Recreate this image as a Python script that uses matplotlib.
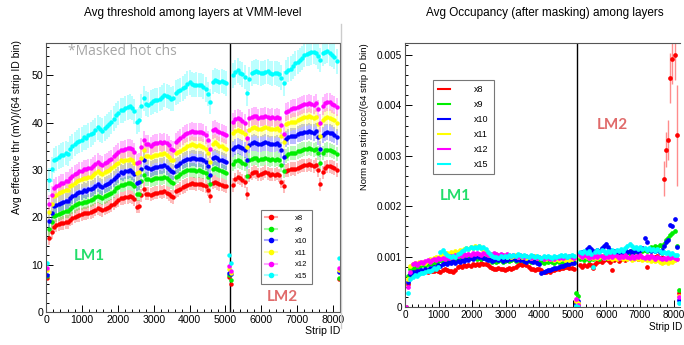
import numpy as np
import matplotlib
matplotlib.use('Agg')
import matplotlib.pyplot as plt
from matplotlib.lines import Line2D
from matplotlib.colors import to_rgba
from matplotlib.ticker import MultipleLocator, FuncFormatter

plt.rcParams['font.family'] = ['Liberation Sans', 'DejaVu Sans']

# 8192 strips grouped in bins of 64 strip IDs
n_bins = 128
bin_width = 64
lm_boundary = 5120

layers = ['x8', 'x9', 'x10', 'x11', 'x12', 'x15']
colors = ['#ff0000', '#00ee00', '#0000ff', '#ffff00', '#ff00ff', '#00ffff']

# --- avg threshold (mV) per 64-strip bin, one list per layer ---
thr_x8 = [7.1, 15.6, 16.9, 18.0, 18.3, 18.5, 18.7, 18.8, 19.0, 19.0,
          19.5, 19.8, 20.1, 20.3, 20.5, 20.6, 20.8, 20.8, 21.0, 21.1,
          21.3, 21.6, 21.9, 21.7, 21.5, 21.8, 22.0, 22.2, 22.5, 22.9,
          23.3, 23.6, 24.0, 24.0, 24.2, 24.3, 24.4, 24.2, 23.8, 22.2,
          22.3, 24.6, 26.0, 25.0, 25.0, 24.8, 25.0, 25.2, 25.2, 25.4,
          25.3, 25.5, 25.2, 24.9, 24.4, 24.3, 25.5, 25.7, 26.0, 26.4,
          26.6, 26.9, 27.1, 27.2, 27.1, 27.0, 27.1, 27.0, 26.8, 26.5,
          25.8, 24.4, 27.3, 27.5, 27.2, 27.0, 26.9, 26.7, 26.5, 7.4,
          6.0, 26.8, 28.0, 28.5, 28.2, 27.8, 27.5, 25.0, 28.8, 29.3,
          29.6, 29.5, 29.0, 29.1, 29.3, 29.6, 29.3, 29.0, 29.1, 29.0,
          29.2, 28.9, 27.5, 26.5, 29.8, 30.0, 30.2, 30.3, 30.2, 30.5,
          30.7, 30.9, 31.0, 31.0, 31.2, 31.0, 30.8, 31.1, 30.0, 27.0,
          29.5, 30.5, 30.8, 30.8, 30.6, 30.4, 30.0, 6.9]
thr_x9 = [7.6, 17.5, 18.9, 20.2, 20.5, 20.7, 20.9, 21.1, 21.3, 21.4,
          21.8, 22.2, 22.5, 22.8, 23.0, 23.1, 23.3, 23.2, 23.5, 23.6,
          23.9, 24.2, 24.5, 24.3, 24.0, 24.4, 24.6, 24.9, 25.2, 25.6,
          26.1, 26.4, 26.9, 26.8, 27.1, 27.2, 27.3, 27.1, 26.6, 24.9,
          25.0, 27.6, 29.0, 28.0, 28.0, 27.8, 28.0, 28.2, 28.3, 28.4,
          28.3, 28.6, 28.2, 27.9, 27.4, 27.2, 28.5, 28.7, 29.1, 29.5,
          29.7, 30.0, 30.0, 30.0, 29.9, 29.8, 29.9, 29.8, 29.6, 29.3,
          28.6, 27.0, 30.2, 30.4, 30.1, 29.9, 29.8, 29.6, 29.4, 7.8,
          6.8, 31.3, 31.8, 32.0, 31.8, 31.5, 31.2, 28.8, 32.0, 32.4,
          32.6, 32.5, 32.2, 32.3, 32.4, 32.6, 32.4, 32.2, 32.3, 32.2,
          32.4, 32.1, 31.0, 29.8, 33.0, 33.3, 33.5, 33.6, 33.6, 33.9,
          34.1, 34.3, 34.4, 34.4, 34.6, 34.4, 34.2, 34.5, 33.5, 31.5,
          33.6, 34.2, 34.3, 34.2, 34.0, 33.8, 33.4, 7.1]
thr_x10 = [7.9, 19.3, 20.9, 22.3, 22.6, 22.9, 23.1, 23.2, 23.5, 23.5,
           24.1, 24.5, 24.8, 25.1, 25.3, 25.4, 25.7, 25.6, 25.9, 26.0,
           26.2, 26.6, 27.0, 26.7, 26.4, 26.8, 27.0, 27.3, 27.7, 28.1,
           28.6, 29.0, 29.5, 29.4, 29.7, 29.8, 29.9, 29.6, 29.1, 27.2,
           27.4, 30.3, 32.0, 30.6, 30.5, 30.2, 30.4, 30.7, 30.7, 30.9,
           30.8, 31.0, 30.6, 30.3, 29.7, 29.5, 30.9, 31.1, 31.5, 31.9,
           32.1, 32.4, 32.4, 32.6, 32.5, 32.3, 32.4, 32.3, 32.0, 31.7,
           30.8, 29.0, 32.6, 32.8, 32.5, 32.2, 32.1, 31.8, 31.6, 8.3,
           8.1, 34.5, 34.9, 35.1, 34.9, 34.6, 34.3, 32.0, 35.3, 35.6,
           35.8, 35.7, 35.4, 35.5, 35.6, 35.8, 35.6, 35.4, 35.5, 35.4,
           35.6, 35.3, 34.2, 32.8, 36.6, 36.9, 37.1, 37.2, 37.2, 37.5,
           37.7, 37.9, 38.1, 38.1, 38.3, 38.1, 37.9, 38.2, 37.0, 34.5,
           37.4, 37.9, 38.0, 37.9, 37.7, 37.4, 36.9, 8.5]
thr_x11 = [8.8, 21.1, 22.9, 24.4, 24.8, 25.1, 25.4, 25.5, 25.8, 25.8,
           26.5, 26.9, 27.3, 27.6, 27.8, 28.0, 28.2, 28.2, 28.5, 28.6,
           28.9, 29.3, 29.7, 29.4, 29.1, 29.5, 29.8, 30.0, 30.4, 30.8,
           31.2, 31.5, 32.0, 31.9, 32.1, 32.2, 32.3, 32.0, 31.5, 29.4,
           29.5, 32.5, 34.3, 33.0, 33.0, 32.7, 33.0, 33.2, 33.2, 33.4,
           33.3, 33.6, 33.2, 32.8, 32.1, 32.0, 33.5, 33.7, 34.0, 34.5,
           34.7, 35.0, 35.2, 35.4, 35.2, 35.1, 35.2, 35.1, 34.8, 34.5,
           33.5, 31.7, 35.5, 35.8, 35.4, 35.1, 35.0, 34.7, 34.5, 9.0,
           8.3, 37.8, 38.3, 38.5, 38.3, 38.0, 37.6, 34.8, 38.5, 38.8,
           39.0, 38.9, 38.6, 38.7, 38.8, 39.0, 38.8, 38.6, 38.7, 38.6,
           38.8, 38.5, 37.2, 35.8, 39.6, 39.9, 40.1, 40.2, 40.2, 40.5,
           40.7, 40.9, 41.1, 41.1, 41.3, 41.1, 40.9, 41.2, 39.8, 37.2,
           40.6, 41.0, 41.2, 41.0, 40.8, 40.5, 40.0, 8.8]
thr_x12 = [9.3, 22.8, 24.6, 26.2, 26.6, 26.9, 27.2, 27.3, 27.6, 27.6,
           28.3, 28.7, 29.1, 29.4, 29.7, 29.8, 30.1, 30.1, 30.4, 30.5,
           30.8, 31.2, 31.6, 31.3, 31.0, 31.4, 31.7, 32.0, 32.4, 32.9,
           33.4, 33.8, 34.3, 34.2, 34.5, 34.6, 34.7, 34.4, 33.8, 31.5,
           31.6, 34.9, 36.4, 35.4, 35.4, 35.1, 35.4, 35.6, 35.6, 35.9,
           35.7, 36.0, 35.6, 35.2, 34.4, 34.3, 36.0, 36.3, 36.7, 37.2,
           37.5, 37.9, 38.1, 38.3, 38.1, 38.0, 38.1, 38.0, 37.7, 37.3,
           36.3, 34.4, 38.4, 38.7, 38.3, 38.0, 37.9, 37.6, 37.3, 9.7,
           8.6, 40.2, 40.8, 41.0, 40.8, 40.4, 40.0, 36.8, 40.9, 41.2,
           41.4, 41.3, 41.0, 41.1, 41.2, 41.4, 41.2, 41.0, 41.1, 41.0,
           41.2, 40.9, 39.4, 37.5, 42.2, 42.5, 42.8, 43.0, 43.0, 43.3,
           43.6, 43.8, 44.0, 44.0, 44.2, 44.0, 43.8, 44.1, 42.8, 40.0,
           43.6, 44.2, 44.4, 44.3, 44.0, 43.7, 43.2, 9.3]
thr_x15 = [10.4, 27.9, 30.1, 32.0, 32.4, 32.7, 33.1, 33.2, 33.6, 33.4,
           34.5, 35.0, 35.5, 35.9, 36.2, 36.4, 36.9, 36.8, 37.3, 37.5,
           37.9, 38.4, 39.0, 38.6, 38.3, 38.8, 39.2, 39.6, 40.1, 40.8,
           41.5, 42.0, 42.6, 42.6, 43.0, 43.2, 43.4, 43.1, 42.4, 40.2,
           40.6, 43.5, 45.1, 44.0, 43.8, 44.2, 44.5, 44.8, 44.7, 45.0,
           45.3, 45.8, 45.6, 45.4, 45.0, 45.1, 46.3, 46.6, 46.9, 47.2,
           47.6, 48.2, 48.5, 48.1, 47.9, 48.0, 47.9, 47.9, 47.6, 47.0,
           46.0, 44.4, 48.6, 49.0, 48.8, 48.6, 48.8, 48.6, 48.3, 12.0,
           10.4, 50.0, 50.6, 51.0, 50.5, 50.2, 49.6, 46.2, 49.2, 50.4,
           50.7, 50.8, 50.6, 50.4, 50.5, 50.7, 50.8, 50.5, 50.3, 50.5,
           50.4, 50.2, 49.5, 48.3, 50.7, 51.2, 51.4, 51.9, 52.5, 52.8,
           53.2, 53.6, 54.3, 54.5, 54.6, 54.8, 55.0, 54.7, 54.0, 53.2,
           54.6, 55.0, 55.2, 54.6, 54.3, 53.9, 52.9, 11.3]
thr_err = [1.4, 1.5, 1.7, 1.8, 1.9, 2.6]
edge_bins = [0, 79, 80, 127]
edge_err = 0.3

# --- normalised occupancy per 64-strip bin, in units of 1e-3 ---
occ_x8 = [0.0, 0.45, 0.60, 0.68, 0.72, 0.70, 0.74, 0.71, 0.69, 0.72,
          0.70, 0.73, 0.71, 0.72, 0.74, 0.72, 0.70, 0.73, 0.76, 0.74,
          0.71, 0.72, 0.70, 0.73, 0.80, 0.82, 0.79, 0.83, 0.81, 0.84,
          0.82, 0.85, 0.83, 0.86, 0.84, 0.87, 0.85, 0.86, 0.83, 0.80,
          0.77, 0.76, 0.75, 0.77, 0.76, 0.75, 0.74, 0.76, 0.77, 0.75,
          0.78, 0.80, 0.83, 0.85, 0.84, 0.86, 0.83, 0.80, 0.76, 0.75,
          0.74, 0.76, 0.75, 0.73, 0.70, 0.69, 0.71, 0.70, 0.74, 0.73,
          0.76, 0.75, 0.78, 0.77, 0.79, 0.80, 0.77, 0.78, 0.76, 0.10,
          0.05, 0.83, 0.80, 0.84, 0.82, 0.85, 0.83, 0.78, 0.86, 0.90,
          0.92, 0.89, 0.94, 0.96, 0.93, 0.90, 0.74, 0.93, 0.95, 0.92,
          0.96, 0.98, 0.94, 0.97, 0.99, 0.95, 0.97, 1.00, 0.96, 0.98,
          0.95, 0.97, 0.80, 0.99, 1.01, 0.97, 0.99, 1.02, 0.98, 1.00,
          2.55, 3.12, 3.31, 4.54, 4.93, 5.00, 3.41, 0.27]
occ_x9 = [0.0, 0.62, 0.75, 0.78, 0.80, 0.82, 0.79, 0.83, 0.85, 0.82,
          0.86, 0.88, 0.86, 0.90, 0.88, 0.91, 0.93, 0.90, 0.94, 0.92,
          0.95, 0.93, 0.96, 0.94, 0.98, 0.96, 1.00, 0.97, 1.01, 0.99,
          1.00, 0.97, 0.99, 0.96, 0.98, 0.95, 0.97, 0.99, 0.96, 0.93,
          0.90, 0.92, 0.89, 0.91, 0.93, 0.90, 0.92, 0.94, 0.91, 0.93,
          0.95, 0.92, 0.94, 0.96, 0.93, 0.91, 0.94, 0.92, 0.90, 0.93,
          0.91, 0.89, 0.92, 0.90, 0.88, 0.91, 0.89, 0.92, 0.90, 0.88,
          0.91, 0.89, 0.92, 0.90, 0.88, 0.91, 0.89, 0.92, 0.90, 0.27,
          0.22, 0.95, 0.98, 0.93, 0.97, 0.94, 0.99, 0.96, 1.00, 0.97,
          0.95, 0.99, 1.02, 0.98, 1.04, 1.07, 1.03, 1.08, 1.05, 1.10,
          1.07, 1.09, 1.06, 1.10, 1.08, 1.11, 1.09, 1.12, 1.10, 1.13,
          1.11, 1.14, 1.12, 1.16, 1.19, 1.17, 1.21, 1.20, 1.23, 1.22,
          1.26, 1.33, 1.37, 1.42, 1.46, 1.51, 1.22, 0.34]
occ_x10 = [0.0, 0.50, 0.65, 0.70, 0.68, 0.72, 0.70, 0.74, 0.72, 0.75,
           0.73, 0.77, 0.75, 0.80, 0.78, 0.83, 0.81, 0.85, 0.88, 0.86,
           0.90, 0.87, 0.91, 0.88, 0.92, 0.90, 0.94, 0.92, 0.96, 0.94,
           0.98, 0.96, 1.00, 1.03, 0.99, 1.02, 0.98, 0.96, 0.93, 0.95,
           0.92, 0.94, 0.97, 0.93, 0.95, 0.92, 0.96, 0.93, 0.97, 0.95,
           0.98, 0.94, 0.96, 0.93, 0.95, 0.92, 0.90, 0.93, 0.91, 0.89,
           0.92, 0.88, 0.85, 0.67, 0.70, 0.72, 0.74, 0.73, 0.76, 0.78,
           0.77, 0.80, 0.82, 0.81, 0.84, 0.86, 0.85, 0.88, 0.87, 0.05,
           0.12, 1.07, 1.10, 1.05, 1.15, 1.20, 1.16, 1.12, 1.09, 1.13,
           1.11, 1.18, 1.22, 1.26, 1.19, 1.13, 1.10, 1.12, 1.08, 1.11,
           1.07, 1.10, 1.13, 1.09, 1.12, 1.08, 1.11, 1.14, 1.10, 1.13,
           1.18, 1.36, 1.30, 1.15, 1.12, 1.14, 1.11, 1.13, 1.10, 1.14,
           1.22, 1.30, 1.33, 1.63, 1.60, 1.74, 1.20, 0.13]
occ_x11 = [0.0, 0.55, 0.82, 0.85, 0.88, 0.86, 0.89, 0.87, 0.90, 0.88,
           0.92, 0.95, 0.93, 0.97, 1.00, 0.98, 1.02, 1.05, 1.03, 1.07,
           1.05, 1.09, 1.07, 1.11, 1.09, 1.13, 1.11, 1.15, 1.18, 1.16,
           1.20, 1.18, 1.22, 1.19, 1.21, 1.17, 1.14, 1.10, 1.07, 1.04,
           1.06, 1.03, 1.05, 1.02, 1.04, 1.01, 1.03, 1.00, 1.02, 0.99,
           1.01, 1.03, 1.00, 1.02, 0.99, 1.01, 0.98, 1.00, 0.97, 0.99,
           1.01, 0.98, 1.00, 0.97, 0.99, 0.96, 0.98, 0.95, 0.97, 0.94,
           0.96, 0.93, 0.95, 0.97, 0.94, 0.96, 0.93, 0.95, 0.97, 0.12,
           0.08, 1.02, 0.99, 1.03, 1.00, 0.97, 1.01, 0.98, 1.00, 0.97,
           0.99, 1.02, 0.98, 1.00, 0.97, 0.99, 0.96, 0.98, 0.95, 0.97,
           0.99, 0.96, 0.98, 0.95, 0.97, 0.94, 0.96, 0.98, 0.95, 0.97,
           0.94, 0.96, 0.93, 0.95, 0.92, 0.94, 0.91, 0.93, 0.90, 0.87,
           0.89, 0.91, 0.88, 0.92, 0.90, 0.93, 0.95, 0.22]
occ_x12 = [0.0, 0.40, 0.70, 0.85, 0.87, 0.84, 0.88, 0.90, 0.87, 0.91,
           0.93, 0.90, 0.94, 0.96, 0.93, 0.97, 0.95, 0.98, 0.96, 1.00,
           0.98, 1.01, 0.99, 1.03, 1.01, 1.04, 1.02, 1.05, 1.03, 1.06,
           1.04, 1.07, 1.05, 1.08, 1.06, 1.04, 1.07, 1.05, 1.03, 1.06,
           1.04, 1.07, 1.05, 1.03, 1.06, 1.04, 1.02, 1.05, 1.03, 1.01,
           1.04, 1.02, 1.00, 1.03, 1.01, 0.99, 1.02, 1.00, 0.98, 1.01,
           0.99, 0.97, 1.00, 0.98, 0.96, 0.99, 0.97, 0.95, 0.98, 0.96,
           0.99, 0.97, 1.00, 0.98, 1.01, 0.99, 1.02, 1.00, 0.98, 0.15,
           0.04, 1.03, 1.00, 1.04, 1.01, 0.98, 1.02, 0.99, 1.03, 1.00,
           1.04, 1.01, 0.98, 1.02, 0.99, 1.03, 1.00, 1.04, 1.01, 0.98,
           1.02, 0.99, 1.03, 1.00, 0.97, 1.01, 0.98, 1.02, 0.99, 1.03,
           1.00, 0.97, 1.01, 0.98, 1.02, 0.99, 0.96, 1.00, 0.97, 0.95,
           0.98, 0.96, 0.99, 0.97, 1.00, 0.98, 0.96, 0.20]
occ_x15 = [np.nan, 0.27, 0.55, 0.60, 0.64, 0.62, 0.66, 0.68, 0.67, 0.70,
           0.72, 0.71, 0.74, 0.77, 0.76, 0.80, 1.10, 1.13, 1.08, 1.04,
           1.01, 0.99, 1.02, 1.00, 1.05, 1.08, 1.11, 1.14, 1.17, 1.15,
           1.19, 1.17, 1.20, 1.18, 1.21, 1.17, 1.19, 1.15, 1.10, 1.05,
           1.01, 0.99, 1.00, 0.98, 1.01, 0.99, 1.02, 1.00, 1.03, 1.01,
           1.04, 1.02, 1.05, 1.03, 1.01, 1.04, 1.02, 1.00, 1.03, 1.01,
           0.99, 1.02, 1.00, 0.98, 1.01, 0.99, 1.02, 1.00, 0.98, 1.01,
           0.99, 1.02, 1.04, 1.01, 1.03, 1.00, 1.02, 1.04, 1.01, 0.02,
           0.00, 1.10, 1.07, 1.11, 1.08, 1.12, 1.06, 0.80, 1.09, 1.13,
           1.10, 1.14, 1.11, 1.08, 1.12, 1.09, 1.13, 1.10, 1.14, 1.11,
           1.15, 1.12, 1.18, 1.22, 1.26, 1.21, 1.17, 1.20, 1.16, 1.19,
           1.15, 1.18, 1.14, 1.17, 1.13, 1.16, 1.12, 1.15, 1.11, 1.08,
           1.10, 1.07, 1.09, 1.05, 1.08, 1.04, 1.03, 0.07]
occ_err = 0.03
occ_x8_tail_err = [0.35, 0.35, 0.40, 0.50, 0.50, 0.50, 1.00]  # bins 120-126

thr_all = [thr_x8, thr_x9, thr_x10, thr_x11, thr_x12, thr_x15]
occ_all = [occ_x8, occ_x9, occ_x10, occ_x11, occ_x12, occ_x15]

strip = np.arange(n_bins) * bin_width + bin_width / 2

fig = plt.figure(figsize=(6.84, 3.45), dpi=100)
ax1 = fig.add_axes([46 / 684, 1 - 312 / 345, 294 / 684, 269 / 345])
ax2 = fig.add_axes([405 / 684, 1 - 307 / 345, 275 / 684, 264 / 345])

# left: thresholds
handles = []
for name, vals, err, c in zip(layers, thr_all, thr_err, colors):
    yerr = np.full(n_bins, err)
    yerr[edge_bins] = edge_err
    ax1.errorbar(strip, vals, yerr=yerr, fmt='o', ms=3.2, mew=0, color=c,
                 ecolor=to_rgba(c, 0.35), elinewidth=1.1, capsize=0)
    handles.append(Line2D([0], [0], color=to_rgba(c, 0.35), lw=1.5, marker='o',
                          ms=3, mfc=c, mec=c))

# right: occupancy
for name, vals, c in zip(layers, occ_all, colors):
    yerr = np.full(n_bins, occ_err)
    if name == 'x8':
        yerr[120:127] = occ_x8_tail_err
    ax2.errorbar(strip, np.array(vals) * 1e-3, yerr=yerr * 1e-3, fmt='o', ms=3.4,
                 mew=0, color=c, ecolor=to_rgba(c, 0.45), elinewidth=1, capsize=0)

for ax in (ax1, ax2):
    ax.axvline(lm_boundary, color='black', lw=1)
    ax.set_xlim(0, n_bins * bin_width)
    ax.xaxis.set_major_locator(MultipleLocator(1000))
    ax.xaxis.set_minor_locator(MultipleLocator(200))
    ax.tick_params(which='both', direction='in', top=False, right=False)
    ax.tick_params(which='major', length=5, width=0.7)
    ax.tick_params(which='minor', length=2.5, width=0.7)
    for sp in ax.spines.values():
        sp.set_linewidth(0.8)
        sp.set_color('#555555')
# the right frame edge of the occupancy plot falls outside the screenshot
ax2.spines['right'].set_visible(False)

ax1.set_ylim(0, 56.8)
ax1.yaxis.set_major_locator(MultipleLocator(10))
ax1.yaxis.set_minor_locator(MultipleLocator(2))
ax1.tick_params(labelsize=7.6, pad=2)

ax2.set_ylim(0, 0.00524)
ax2.yaxis.set_major_locator(MultipleLocator(0.001))
ax2.yaxis.set_minor_locator(MultipleLocator(0.0002))
ax2.yaxis.set_major_formatter(FuncFormatter(lambda v, p: '0' if abs(v) < 1e-9 else f'{v:.3f}'))
ax2.tick_params(labelsize=7.2, pad=2)

# titles and axis titles
fig.text(193 / 684, 1 - 13 / 345, 'Avg threshold among layers at VMM-level',
         ha='center', va='center', fontsize=8.5)
fig.text(545 / 684, 1 - 13 / 345, 'Avg Occupancy (after masking) among layers',
         ha='center', va='center', fontsize=8.5)
fig.text(17 / 684, 1 - 40 / 345, 'Avg effective thr (mV)/(64 strip ID bin)',
         rotation=90, ha='center', va='top', fontsize=7.5)
fig.text(365 / 684, 1 - 43 / 345, 'Norm avg strip occ/(64 strip ID bin)',
         rotation=90, ha='center', va='top', fontsize=6.8)
ax1.text(1.0, -0.07, 'Strip ID', transform=ax1.transAxes, ha='right', va='center', fontsize=7.6)
fig.text(682 / 684, 1 - 327 / 345, 'Strip ID', ha='right', va='center', fontsize=7.2)

# legends
leg1 = ax1.legend(handles, layers, loc='upper left', bbox_to_anchor=(0.731, 0.379),
                  borderaxespad=0, fontsize=5.5, labelspacing=0.55, handlelength=1.5,
                  handletextpad=2.4, borderpad=0.6, fancybox=False, framealpha=1)
leg1.get_frame().set_edgecolor('#777777')
leg1.get_frame().set_linewidth(0.8)

line_handles = [Line2D([0], [0], color=c, lw=1.5) for c in colors]
leg2 = ax2.legend(line_handles, layers, loc='upper left', bbox_to_anchor=(0.102, 0.86),
                  borderaxespad=0, fontsize=6.5, labelspacing=0.65, handlelength=1.3,
                  handletextpad=2.6, borderpad=0.6, fancybox=False, framealpha=1)
leg2.get_frame().set_edgecolor('#777777')
leg2.get_frame().set_linewidth(0.8)

# annotations
ax1.text(0.075, 0.968, '*Masked hot chs', transform=ax1.transAxes, ha='left', va='center',
         fontsize=10, color='#a6a6a6', family=['Open Sans', 'DejaVu Sans'])
lm1_color = '#22dd6a'
lm2_color = '#e06a6a'
ax1.text(0.146, 0.208, 'LM1', transform=ax1.transAxes, ha='center', va='center',
         fontsize=11, fontweight='bold', color=lm1_color, family=['Lato', 'DejaVu Sans'])
ax1.text(0.803, 0.056, 'LM2', transform=ax1.transAxes, ha='center', va='center',
         fontsize=11, fontweight='bold', color=lm2_color, family=['Lato', 'DejaVu Sans'])
ax2.text(0.182, 0.42, 'LM1', transform=ax2.transAxes, ha='center', va='center',
         fontsize=11, fontweight='bold', color=lm1_color, family=['Lato', 'DejaVu Sans'])
ax2.text(0.753, 0.689, 'LM2', transform=ax2.transAxes, ha='center', va='center',
         fontsize=11, fontweight='bold', color=lm2_color, family=['Lato', 'DejaVu Sans'])

# border of the second screenshot
fig.add_artist(Line2D([341 / 684, 341 / 684], [0.05, 0.93], color='#cccccc', lw=1))

fig.savefig('out.png', dpi=100)
